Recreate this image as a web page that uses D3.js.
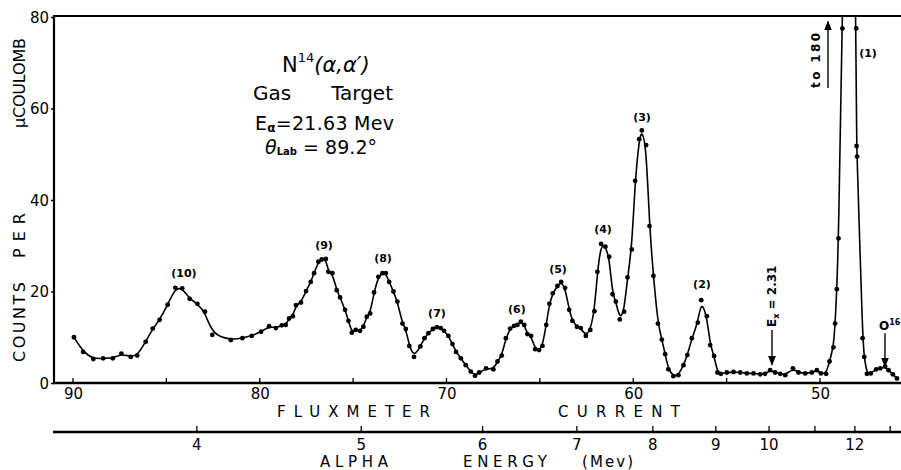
<!DOCTYPE html>
<html><head><meta charset="utf-8">
<script src="https://cdn.jsdelivr.net/npm/d3@7"></script>
<style>
body{margin:0;background:#fff;}
svg{display:block;}
text{font-family:"DejaVu Sans",sans-serif;fill:#000;}
</style>
</head><body>
<svg id="c" width="901" height="470"></svg>
<script>
// ---- data ----
const fluxCurrent = [
 89.95,89.46,88.91,88.39,87.87,87.41,86.91,86.56,86.11,85.73,85.36,84.93,84.52,84.15,83.75,83.34,82.93,82.54,81.55,
 80.93,80.43,79.93,79.50,79.14,78.82,78.61,78.43,78.23,78.06,77.79,77.52,77.27,77.09,76.86,76.68,76.46,76.33,76.11,
 75.88,75.70,75.43,75.25,75.07,74.86,74.63,74.45,74.27,74.09,73.88,73.65,73.43,73.25,73.07,72.84,72.63,72.36,72.18,
 71.99,71.74,71.40,71.18,70.97,70.73,70.52,70.31,70.13,69.90,69.68,69.49,69.23,68.97,68.70,68.47,68.25,67.88,67.49,
 67.27,67.04,66.82,66.59,66.38,66.20,66.02,65.84,65.67,65.47,65.25,65.04,64.86,64.66,64.49,64.31,64.06,63.86,63.65,
 63.43,63.26,63.02,62.81,62.54,62.30,62.08,61.92,61.72,61.49,61.29,61.11,60.93,60.72,60.49,60.31,60.08,59.90,59.68,
 59.54,59.31,59.13,58.92,58.68,58.47,58.29,58.12,57.85,57.58,57.31,57.10,56.86,56.54,56.36,56.06,55.88,55.67,55.49,
 55.31,54.99,54.63,54.27,53.92,53.56,53.20,52.94,52.67,52.40,52.13,51.86,51.45,51.15,50.79,50.44,50.17,49.95,49.67,
 49.49,49.28,49.19,49.10,49.01,48.80,48.43,48.06,48.04,48.01,47.72,47.63,47.49,47.28,46.99,46.78,46.51,46.33,46.10,45.88
];
const countsPerMicroCoulomb = [
 10.0,6.8,5.25,5.4,5.4,6.4,5.7,6.0,9.0,11.9,13.8,17.1,20.8,20.7,18.4,17.3,15.6,10.5,9.4,
 9.8,10.3,11.2,12.4,12.0,12.6,12.7,14.1,14.6,17.0,17.6,20.1,22.1,24.0,26.5,27.0,27.1,24.3,24.0,
 20.3,18.7,16.0,13.6,11.0,11.6,11.4,12.3,14.5,15.2,19.8,23.2,24.0,24.0,22.1,20.0,17.8,13.0,11.8,
 8.1,5.7,8.0,9.8,10.9,11.8,12.2,12.0,11.4,10.3,8.5,6.8,5.4,3.9,2.5,1.6,2.3,3.2,3.0,
 4.7,6.0,9.8,11.9,12.5,12.7,13.4,12.7,10.7,10.3,7.4,7.2,8.1,12.7,17.3,19.6,21.2,22.1,20.8,
 16.0,13.6,12.3,12.0,10.3,11.6,15.7,24.3,30.4,29.8,27.6,19.4,17.8,13.9,15.6,23.1,29.2,44.2,53.3,
 55.2,52.0,34.3,23.4,13.0,9.5,6.3,3.0,1.5,1.7,3.9,6.1,9.8,13.2,18.1,14.6,8.3,5.9,2.3,
 2.0,2.3,2.4,2.3,2.1,2.1,1.9,2.0,2.8,2.3,2.0,1.7,3.2,2.3,2.1,2.3,2.8,2.1,2.0,
 4.7,7.8,13.0,20.5,31.6,77.5,180,77.5,51.8,49.5,9.8,5.7,2.0,2.1,3.0,3.2,3.6,2.8,1.9,1.0
];
const fluxTicks = [90,80,70,60,50];
const fluxSmallTicks = [90,85,80,75,70,65,60,55,50];
const countTicks = [0,20,40,60,80];
const energyTicks = [4,5,6,7,8,9,10,11,12,13];
const energyTickLabels = ["4","5","6","7","8","9","10","","12",""];
const energyFluxConstant = 27800; // E = K / I^2

const peakNames = ["(10)","(9)","(8)","(7)","(6)","(5)","(4)","(3)","(2)","(1)"];
const peakLabelFlux = [84.06,76.56,73.40,70.51,66.23,64.03,61.62,59.53,56.32,47.43];
const peakLabelCounts = [23.2,29.3,26.4,14.4,15.3,24.0,32.8,57.3,20.8,71.3];

// arrows: [flux, fromCounts, toCounts]
const arrowEx = [52.57, 11.6, 4.0];
const arrowO16 = [46.52, 10.9, 3.6];
const arrow180 = [49.57, 64.5, 79.0];

// ---- layout ----
const svg = d3.select("#c");
const L = 54, R = 901, T = 16, B = 383, E_AXIS_Y = 432;

const x = d3.scaleLinear().domain([90,50]).range([73,820]);
const y = d3.scaleLinear().domain([0,80]).range([B,17]);
const xE = e => x(Math.sqrt(energyFluxConstant / e));

const data = fluxCurrent.map((f,i)=>({f, c: countsPerMicroCoulomb[i]}));

svg.append("defs").append("clipPath").attr("id","plot")
  .append("rect").attr("x",L).attr("y",T).attr("width",R-L).attr("height",B-T);

// frame lines
svg.append("line").attr("x1",L).attr("x2",R).attr("y1",T).attr("y2",T).attr("stroke","#000").attr("stroke-width",2);
svg.append("line").attr("x1",L).attr("x2",L).attr("y1",T-1).attr("y2",B+1).attr("stroke","#000").attr("stroke-width",2.2);
svg.append("line").attr("x1",L-1).attr("x2",R).attr("y1",B).attr("y2",B).attr("stroke","#000").attr("stroke-width",2.5);

// y axis
const yAxis = d3.axisLeft(y).tickValues(countTicks).tickSize(3).tickPadding(2).tickFormat(d3.format("d"));
const gy = svg.append("g").attr("transform",`translate(${L},0)`).call(yAxis);
gy.select(".domain").remove();
gy.selectAll("line").attr("stroke","#000").attr("stroke-width",1.5);
gy.selectAll("text").attr("font-size",15).attr("font-family","DejaVu Sans").attr("fill","#000").attr("dy","0.36em");

// flux axis
const xAxis = d3.axisBottom(x).tickValues(fluxTicks).tickSize(0).tickPadding(5).tickFormat(d3.format("d"));
const gx = svg.append("g").attr("transform",`translate(0,${B})`).call(xAxis);
gx.select(".domain").remove();
gx.selectAll("text").attr("font-size",15).attr("font-family","DejaVu Sans").attr("fill","#000");
svg.append("g").selectAll("line").data(fluxSmallTicks).join("line")
  .attr("x1",d=>x(d)).attr("x2",d=>x(d)).attr("y1",B).attr("y2",B-5)
  .attr("stroke","#000").attr("stroke-width",1.3);

// energy axis
svg.append("line").attr("x1",L-1).attr("x2",R).attr("y1",E_AXIS_Y).attr("y2",E_AXIS_Y).attr("stroke","#000").attr("stroke-width",2.5);
const ge = svg.append("g");
ge.selectAll("line").data(energyTicks).join("line")
  .attr("x1",d=>xE(d)).attr("x2",d=>xE(d)).attr("y1",E_AXIS_Y).attr("y2",E_AXIS_Y-6)
  .attr("stroke","#000").attr("stroke-width",1.3);
ge.selectAll("text").data(energyTicks).join("text")
  .attr("x",d=>xE(d)).attr("y",E_AXIS_Y+18).attr("text-anchor","middle").attr("font-size",15)
  .text((d,i)=>energyTickLabels[i]);

// axis titles
function spaced(txt, x0, x1, yb, fs){
  svg.append("text").attr("x",x0).attr("y",yb).attr("font-size",fs)
    .attr("textLength",x1-x0).attr("lengthAdjust","spacing").text(txt);
}
spaced("FLUXMETER",277,430,417,15);
spaced("CURRENT",558,680,417,15);
spaced("ALPHA",320,388,467,15);
spaced("ENERGY",463,547,467,15);
spaced("(Mev)",582,633,467,15);

function vspaced(txt, cx, y0, y1, fs){
  svg.append("text").attr("transform",`translate(${cx+6},${y1}) rotate(-90)`)
    .attr("font-size",fs).attr("textLength",y1-y0).attr("lengthAdjust","spacing").text(txt);
}
vspaced("COUNTS",19,282,362,16);
vspaced("PER",19,213,258,16);
vspaced("\u03BCCOULOMB",19,38,128,16);

// curve
const line = d3.line().x(d=>x(d.f)).y(d=>y(d.c)).curve(d3.curveBasis);
svg.append("path").datum(data).attr("clip-path","url(#plot)")
  .attr("d",line).attr("fill","none").attr("stroke","#000").attr("stroke-width",1.6);
svg.append("g").attr("clip-path","url(#plot)").selectAll("circle").data(data).join("circle")
  .attr("cx",d=>x(d.f)).attr("cy",d=>y(d.c)).attr("r",2.4).attr("fill","#000");

// peak labels
svg.append("g").selectAll("text").data(peakNames).join("text")
  .attr("x",(d,i)=>x(peakLabelFlux[i])).attr("y",(d,i)=>y(peakLabelCounts[i]))
  .attr("text-anchor","middle").attr("font-size",11).attr("font-weight","bold").text(d=>d);

// arrows
const defs = svg.select("defs");
defs.append("marker").attr("id","ah").attr("viewBox","0 0 10 10").attr("refX",9).attr("refY",5)
  .attr("markerWidth",7).attr("markerHeight",7).attr("orient","auto-start-reverse")
  .append("path").attr("d","M0,1 L10,5 L0,9 Z").attr("fill","#000");
[arrowEx, arrowO16, arrow180].forEach(a=>{
  svg.append("line").attr("x1",x(a[0])).attr("x2",x(a[0])).attr("y1",y(a[1])).attr("y2",y(a[2]))
    .attr("stroke","#000").attr("stroke-width",1.4).attr("marker-end","url(#ah)");
});

// rotated annotations
const tEx = svg.append("text").attr("transform",`translate(${x(arrowEx[0])+4},${y(arrowEx[1])-3}) rotate(-90)`)
  .attr("font-size",12).attr("font-weight","bold");
tEx.append("tspan").text("E");
tEx.append("tspan").attr("font-size",8).attr("dy",3).text("x");
tEx.append("tspan").attr("dy",-3).text(" = 2.31");

svg.append("text").attr("transform",`translate(${x(arrow180[0])-8},${y(arrow180[1])}) rotate(-90)`)
  .attr("font-size",12).attr("font-weight","bold").attr("textLength",55).attr("lengthAdjust","spacing").text("to 180");

const tO = svg.append("text").attr("x",x(arrowO16[0])-6).attr("y",y(arrowO16[1])-3).attr("font-size",12).attr("font-weight","bold");
tO.append("tspan").text("O");
tO.append("tspan").attr("font-size",8).attr("dy",-5).text("16");

// title block
const t1 = svg.append("text").attr("x",282).attr("y",72).attr("font-size",21);
t1.append("tspan").text("N");
t1.append("tspan").attr("font-size",13).attr("dy",-10).text("14");
t1.append("tspan").attr("dy",10).attr("font-style","italic").text("(\u03B1,\u03B1\u2032)");

svg.append("text").attr("x",253).attr("y",100).attr("font-size",20).text("Gas");
svg.append("text").attr("x",393).attr("y",100).attr("font-size",20).attr("text-anchor","end").text("Target");

const t3 = svg.append("text").attr("x",255).attr("y",130).attr("font-size",19)
  .attr("textLength",139).attr("lengthAdjust","spacing");
t3.append("tspan").text("E");
t3.append("tspan").attr("font-size",12).attr("font-weight","bold").attr("dy",2).text("\u03B1");
t3.append("tspan").attr("dy",-2).text("=21.63 Mev");

const t4 = svg.append("text").attr("x",265).attr("y",154).attr("font-size",19)
  .attr("textLength",112).attr("lengthAdjust","spacing");
t4.append("tspan").attr("font-style","italic").text("\u03B8");
t4.append("tspan").attr("font-size",10).attr("font-weight","bold").attr("dy",1).text("Lab");
t4.append("tspan").attr("dy",-1).text(" = 89.2\u00B0");
</script>
</body></html>
